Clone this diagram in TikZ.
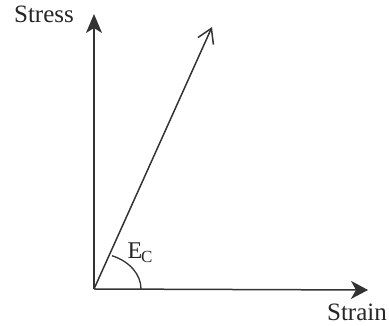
\documentclass[tikz,border=0pt]{standalone}
\usepackage{fontspec}
\setmainfont{Liberation Serif}
\usetikzlibrary{arrows.meta}
\begin{document}
\begin{tikzpicture}[x=1pt,y=1pt,
  axis/.style={line width=1.5pt, draw=black!80},
  lbl/.style={inner sep=0pt, text=black!85, font=\fontsize{25}{28}\selectfont}]
\useasboundingbox (0,0) rectangle (389,326);
\coordinate (O) at (94,37);
\coordinate (Y) at (94,312);
\coordinate (X) at (368,36);
\coordinate (D) at (212,299);
\draw[axis, -{Stealth[length=19pt,width=16pt,inset=5pt]}] (O) -- (Y);
\draw[axis, -{Stealth[length=17pt,width=18pt,inset=5pt]}] (O) -- (X);
\draw[axis, -{Straight Barb[length=14pt,width=17pt]}] (O) -- (D);
\draw[line width=1.3pt, draw=black!80] (141,37) arc[start angle=0, end angle=67.5, x radius=47, y radius=36];
\node[lbl] (stress) at (44,312) {Stress};
\node[lbl] (strain) at (357,14) {Strain};
\node[lbl, font=\fontsize{24}{26}\selectfont] (ec) at (140,73) {E\kern-1pt\raisebox{-4pt}{\fontsize{17}{19}\selectfont C}};
\end{tikzpicture}
\end{document}
